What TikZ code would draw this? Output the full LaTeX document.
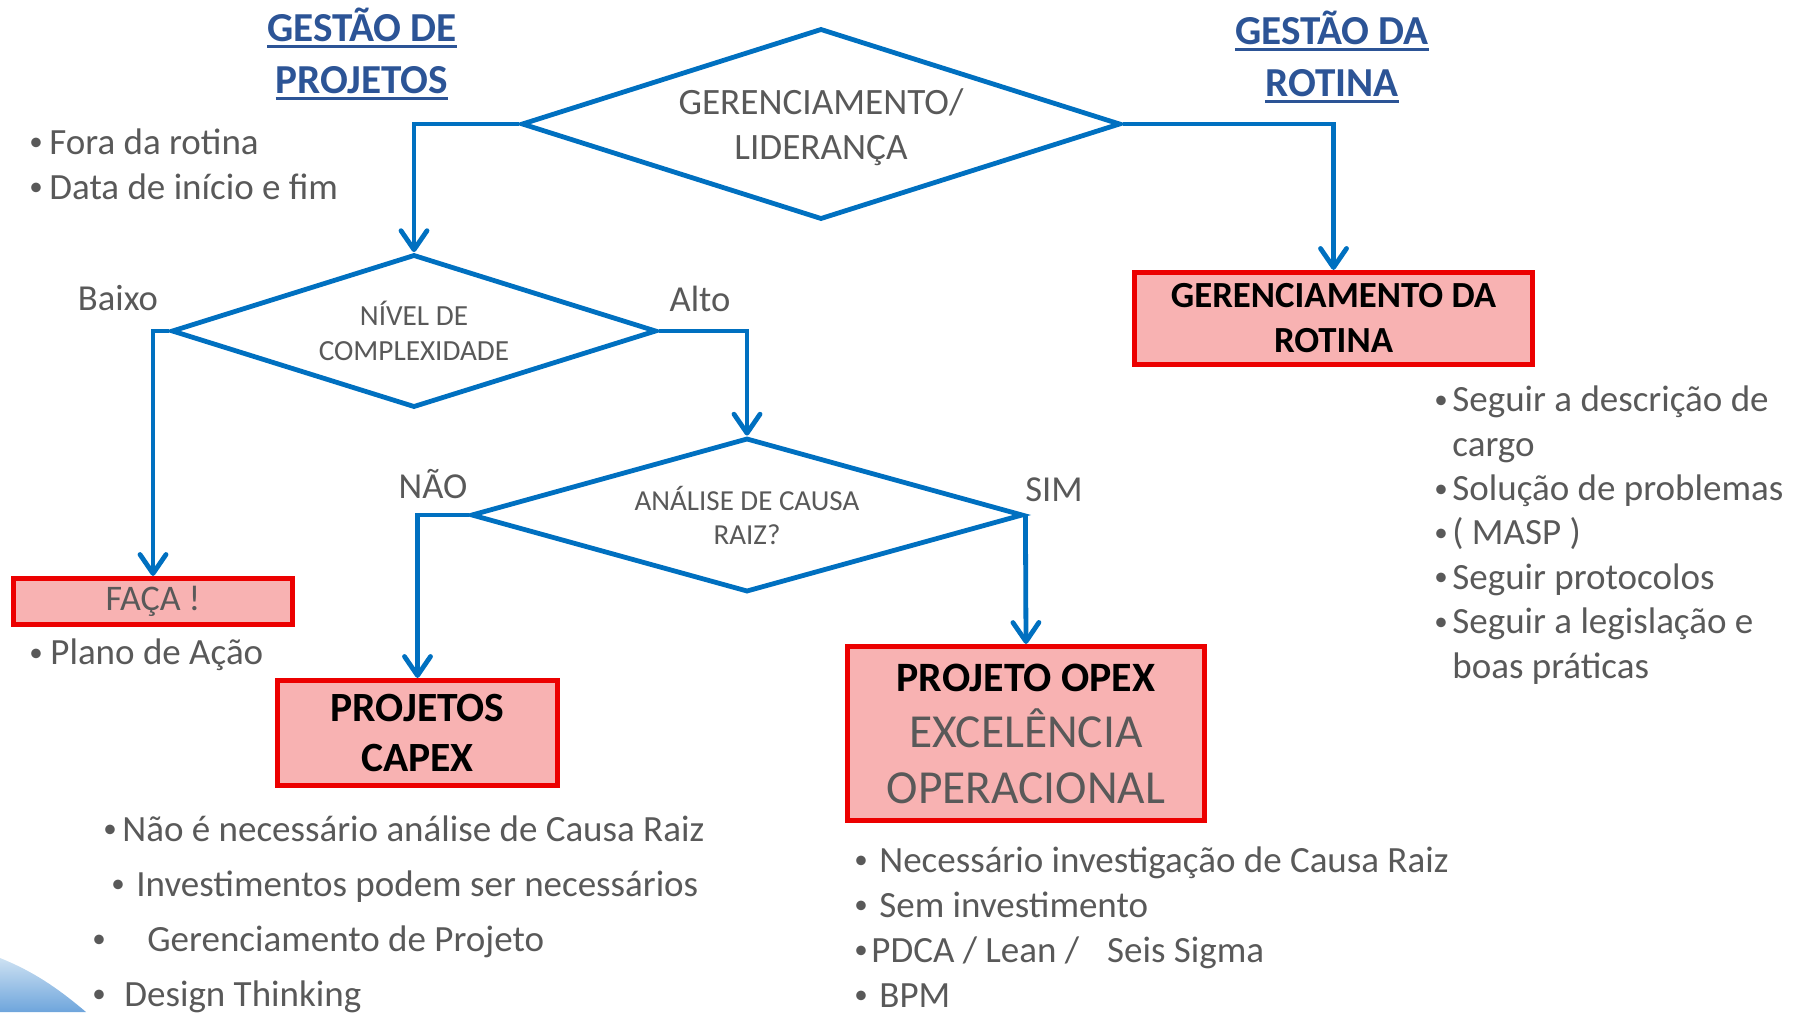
\documentclass[tikz,border=0pt]{standalone}
\usepackage{fontspec}
\setmainfont{Carlito}
\usetikzlibrary{arrows.meta,positioning,shapes.geometric}

\definecolor{flowblue}{RGB}{0,112,192}
\definecolor{boxred}{RGB}{236,0,0}
\definecolor{boxpink}{RGB}{248,178,178}
\definecolor{textgray}{RGB}{89,89,89}
\definecolor{titleblue}{RGB}{44,84,150}

\newcommand{\fs}[2]{\fontsize{#1}{#2}\selectfont}
\newcommand{\bul}[1]{\makebox[#1][l]{\raisebox{1.7pt}{\fs{13.5}{13.5}•}}}
\newcommand{\ulbar}[1]{\leavevmode\setbox0\hbox{#1}\rlap{\rule[-2.8pt]{\wd0}{1.1pt}}\box0}

\begin{document}
\begin{tikzpicture}[x=0.5pt,y=-0.5pt,
  every node/.style={text=textgray},
  decision/.style={diamond, draw=flowblue, line width=2.4pt, inner sep=0pt, align=center},
  result/.style={rectangle, draw=boxred, fill=boxpink, line width=2.6pt, inner sep=0pt, align=center},
  flow/.style={flowblue, line width=2.4pt, -{Straight Barb[length=9.5pt,width=13pt,round]}},
  elbow/.style={to path={-| (\tikztotarget)}},
  title/.style={align=center, text=titleblue, font=\fs{20.6}{26}\bfseries},
  answer/.style={font=\fs{18.3}{22}},
  items/.style={anchor=west, align=left, inner sep=0pt, font=\fs{18.5}{22.4}}]
  \useasboundingbox (0,0) rectangle (1802,1012);

  \shade[top color={rgb,255:red,205;green,225;blue,242}, bottom color={rgb,255:red,110;green,165;blue,220}]
    (0,958) .. controls (35,972) and (60,990) .. (86,1012) -- (0,1012) -- cycle;

  \node[title](TitProj) at (362,54){\ulbar{GESTÃO DE}\\\ulbar{PROJETOS}};
  \node[title](TitRot) at (1332,57){\ulbar{GESTÃO DA}\\\ulbar{ROTINA}};

  \node[decision, minimum width=299.5pt, minimum height=95.5pt, shape aspect=3.14, text depth=0pt, font=\fs{18.6}{22.5}](Lead) at (821,124){GERENCIAMENTO/\\LIDERANÇA};
  \node[decision, minimum width=242.5pt, minimum height=76.5pt, shape aspect=3.17, font=\fs{14.6}{17.5}](Compl) at (414,331){NÍVEL DE\\COMPLEXIDADE};
  \node[decision, minimum width=276pt, minimum height=77pt, shape aspect=3.58, font=\fs{14.5}{17}](Causa) at (747,515){ANÁLISE DE CAUSA\\RAIZ?};

  \node[result, minimum width=199pt, minimum height=46pt, text=black, font=\fs{18.4}{22.5}\bfseries](Rotina) at (1333.5,318.5){GERENCIAMENTO DA\\ROTINA};
  \node[result, minimum width=139.5pt, minimum height=23pt, font=\fs{18}{22}](Faca) at (153,601.5){FAÇA !};
  \node[result, minimum width=140pt, minimum height=52.5pt, text=black, font=\fs{20.8}{25}\bfseries](Capex) at (417.5,733){PROJETOS\\CAPEX};
  \node[result, minimum width=178.5pt, minimum height=87pt, font=\fs{23.7}{28}](Opex) at (1026,733.5){{\fs{20.9}{28}\bfseries\color{black}PROJETO OPEX}\\EXCELÊNCIA\\OPERACIONAL};

  \node[answer](Baixo) at (118,298){Baixo};
  \node[answer](Alto) at (700,299){Alto};
  \node[answer](Nao) at (433,484){NÃO};
  \node[answer](Sim) at (1054,490){SIM};

  \node[items](ProjList) at (29,164){\bul{10pt}Fora da rotina\\\bul{10pt}Data de início e fim};
  \node[items](FacaList) at (29,655){\bul{10.5pt}Plano de Ação};
  \node[items, font=\fs{18.5}{22.2}](RotList) at (1434,535){\bul{9pt}Seguir a descrição de\\
    \hspace*{9pt}cargo\\
    \bul{9pt}Solução de problemas\\
    \bul{9pt}( MASP )\\
    \bul{9pt}Seguir protocolos\\
    \bul{9pt}Seguir a legislação e\\
    \hspace*{9pt}boas práticas};
  \node[items, font=\fs{18.5}{27.5}](CapexList) at (92,914){\hspace*{5.5pt}\bul{9.5pt}Não é necessário análise de Causa Raiz\\
    \hspace*{9.5pt}\bul{12.5pt}Investimentos podem ser necessários\\
    \bul{27.5pt}Gerenciamento de Projeto\\
    \bul{16pt}Design Thinking};
  \node[items, font=\fs{18.5}{22.5}](OpexList) at (854,927){\bul{12.5pt}Necessário investigação de Causa Raiz\\
    \bul{12.5pt}Sem investimento\\
    \bul{8.5pt}PDCA / Lean /\hspace{14pt}Seis Sigma\\
    \bul{12.5pt}BPM};

  \path[flow]
  (Lead.west) edge[elbow] (Compl.north)
  (Lead.east) edge[elbow] (Rotina.north)
  (Compl.west) edge[elbow] (Faca.north)
  (Compl.east) edge[elbow] (Causa.north)
  (Causa.west) edge[elbow] (Capex.north)
  (Causa.east) edge (Opex.north);
\end{tikzpicture}
\end{document}
